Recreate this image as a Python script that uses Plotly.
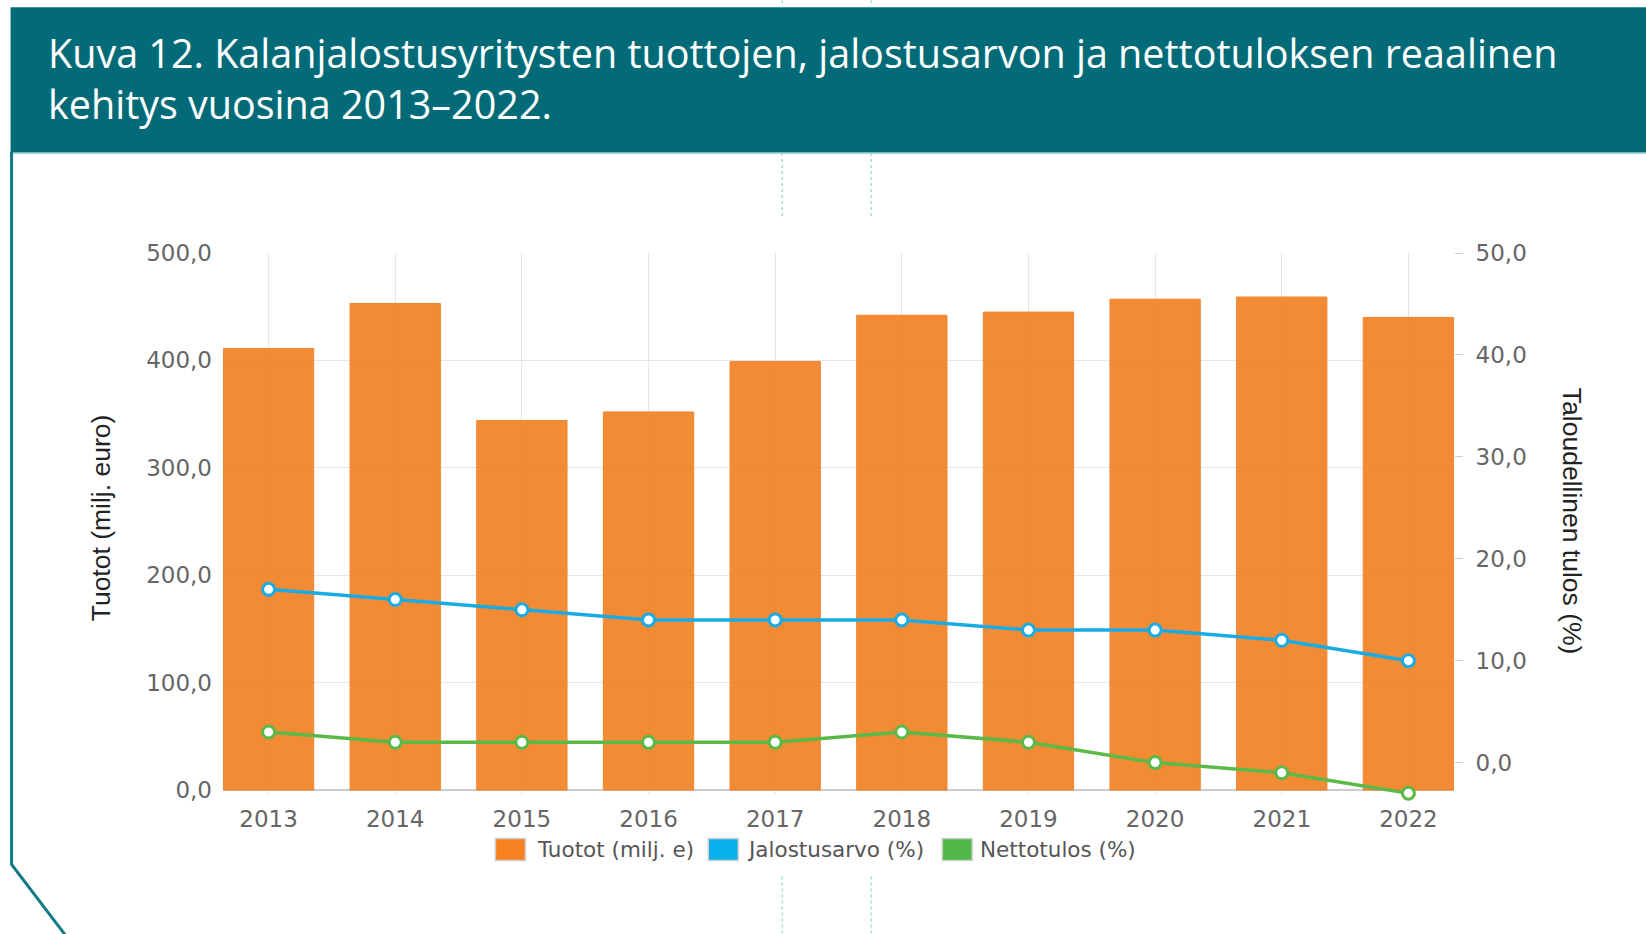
import plotly.graph_objects as go

years = ["2013", "2014", "2015", "2016", "2017", "2018", "2019", "2020", "2021", "2022"]
tuotot = [411, 453, 344, 352, 399, 442, 445, 457, 459, 440]
jalostusarvo = [17, 16, 15, 14, 14, 14, 13, 13, 12, 10]
nettotulos = [3, 2, 2, 2, 2, 3, 2, 0, -1, -3]

left_ticks = [0, 100, 200, 300, 400, 500]
right_ticks = [0, 10, 20, 30, 40, 50]

legend_names = ["Tuotot (milj. e)", "Jalostusarvo (%)", "Nettotulos (%)"]
legend_colors = ["#f5821f", "#0ab0ec", "#52b848"]

W_PX, H_PX = 1646, 934
L, R, T, B = 222.5, 1454.0, 253.0, 794.5


def px(x):
    return (x - L) / (R - L)


def py(y):
    return (B - y) / (B - T)


xpos = list(range(len(years)))

fig = go.Figure()
fig.add_trace(go.Bar(
    x=xpos, y=tuotot, name=legend_names[0], width=0.713,
    marker=dict(color="#f27f20", line=dict(color="#ee7a18", width=1)),
    opacity=0.9, showlegend=False, yaxis="y"))
fig.add_trace(go.Scatter(
    x=xpos, y=jalostusarvo, name=legend_names[1], yaxis="y2",
    mode="lines+markers", cliponaxis=False, showlegend=False,
    line=dict(color="#1aabe3", width=3.5),
    marker=dict(size=12, color="white", line=dict(color="#1aabe3", width=3))))
fig.add_trace(go.Scatter(
    x=xpos, y=nettotulos, name=legend_names[2], yaxis="y2",
    mode="lines+markers", cliponaxis=False, showlegend=False,
    line=dict(color="#5ab947", width=3.5),
    marker=dict(size=12, color="white", line=dict(color="#5ab947", width=3))))

tick_font = dict(family="DejaVu Sans, Verdana, sans-serif", size=23, color="#666666")

fig.update_layout(
    width=W_PX, height=H_PX,
    margin=dict(l=L, r=W_PX - R, t=T, b=H_PX - B, autoexpand=False),
    paper_bgcolor="white", plot_bgcolor="white",
    barmode="overlay",
    separators=", ",
    showlegend=False,
    xaxis=dict(
        tickmode="array", tickvals=xpos, ticktext=years, range=[-0.36, 9.36],
        showgrid=True, gridcolor="#e6e6e6", gridwidth=1,
        showline=False, ticks="", ticklabelstandoff=9, tickfont=tick_font,
        zeroline=False,
    ),
    yaxis=dict(
        range=[-3.72, 500], tickmode="array", tickvals=left_ticks,
        tickformat=".1f", showgrid=True, gridcolor="#e6e6e6", gridwidth=1,
        zeroline=True, zerolinecolor="#cccccc", zerolinewidth=1.5,
        ticks="", ticklabelstandoff=10, tickfont=tick_font,
    ),
    yaxis2=dict(
        range=[-3.08, 50], overlaying="y", side="right", tickmode="array",
        tickvals=right_ticks, tickformat=".1f", showgrid=False, zeroline=False,
        ticks="outside", ticklen=8, tickcolor="#cccccc", ticklabelstandoff=8,
        tickfont=tick_font,
    ),
)

shapes = []
# title banner
shapes.append(dict(type="rect", xref="paper", yref="paper",
                   x0=px(10), x1=px(1660), y0=py(152.5), y1=py(7),
                   fillcolor="#036b78", line=dict(width=0), layer="above"))
shapes.append(dict(type="line", xref="paper", yref="paper",
                   x0=px(12), x1=px(1660), y0=py(153.5), y1=py(153.5),
                   line=dict(color="#9fd4d6", width=1)))
# left border + diagonal
shapes.append(dict(type="path", xref="paper", yref="paper",
                   path=f"M {px(11)} {py(152)} L {px(11)} {py(865)} L {px(65)} {py(936)}",
                   line=dict(color="#127b85", width=3)))
# dotted guide lines
for gx in (782, 871):
    for (ya, yb) in ((0, 7), (153, 217), (877, 934)):
        shapes.append(dict(type="line", xref="paper", yref="paper",
                           x0=px(gx), x1=px(gx), y0=py(ya), y1=py(yb),
                           line=dict(color="#a6e3d6", width=1.5, dash="dot")))

# custom legend (squares + labels)
legend_sq_x = [495, 708, 942]
legend_txt_x = [537, 747, 980]
for sx, col in zip(legend_sq_x, legend_colors):
    shapes.append(dict(type="rect", xref="paper", yref="paper",
                       x0=px(sx), x1=px(sx + 30), y0=py(861), y1=py(839),
                       fillcolor=col, line=dict(color="#cfcfcf", width=1.5)))
fig.update_layout(shapes=shapes)

title_font = dict(family="Open Sans, Noto Sans, sans-serif", size=39.5, color="white")
axis_title_font = dict(family="Liberation Sans, Arial, sans-serif", size=26.5, color="#222222")
legend_font = dict(family="DejaVu Sans, Verdana, sans-serif", size=21.5, color="#555555")
annotations = [
    dict(text="Kuva 12. Kalanjalostusyritysten tuottojen, jalostusarvon ja nettotuloksen reaalinen",
         xref="paper", yref="paper", x=px(45), y=py(70), xanchor="left", yanchor="bottom",
         showarrow=False, font=title_font, yshift=-12),
    dict(text="kehitys vuosina 2013–2022.",
         xref="paper", yref="paper", x=px(45), y=py(121), xanchor="left", yanchor="bottom",
         showarrow=False, font=title_font, yshift=-12),
    dict(text="Tuotot (milj. euro)", xref="paper", yref="paper",
         x=px(100), y=py(518), xanchor="center", yanchor="middle",
         textangle=-90, showarrow=False, font=axis_title_font),
    dict(text="Taloudellinen tulos (%)", xref="paper", yref="paper",
         x=px(1572), y=py(522), xanchor="center", yanchor="middle",
         textangle=90, showarrow=False, font=axis_title_font),
]
for tx, name in zip(legend_txt_x, legend_names):
    annotations.append(dict(text=name, xref="paper", yref="paper",
                            x=px(tx), y=py(850), xanchor="left", yanchor="middle",
                            showarrow=False, font=legend_font, xshift=-2))
fig.update_layout(annotations=annotations)

fig.write_html("out.html", config={"displayModeBar": False},
               post_script="document.body.style.margin='0px';document.body.style.overflow='hidden';")
